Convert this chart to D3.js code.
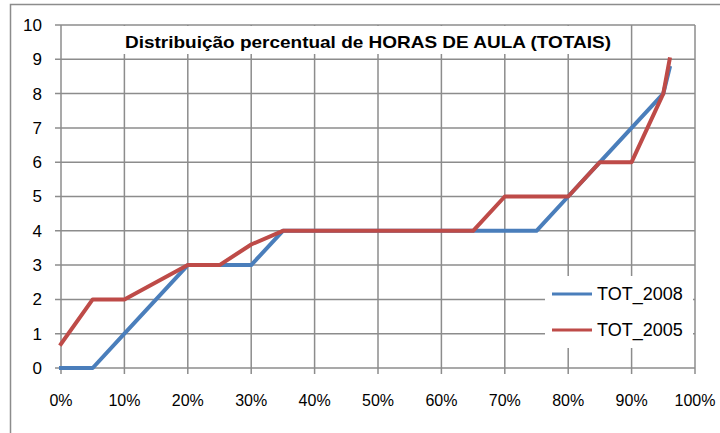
<!DOCTYPE html>
<html><head><meta charset="utf-8">
<script src="https://cdn.jsdelivr.net/npm/d3@7"></script>
<style>body{margin:0;background:#fff}svg{display:block}</style>
</head><body>
<svg id="c" width="720" height="433"></svg>
<script>
const percentiles = [0,0.05,0.10,0.15,0.20,0.25,0.30,0.35,0.40,0.45,0.50,0.55,0.60,0.65,0.70,0.75,0.80,0.85,0.90,0.95,0.96];
const tot2008 = [0,0,1,2,3,3,3,4,4,4,4,4,4,4,4,4,5,6,7,8,8.75];
const tot2005 = [0.7,2,2,2.5,3,3,3.6,4,4,4,4,4,4,4,5,5,5,6,6,8,9];
const seriesNames = ["TOT_2008","TOT_2005"];
const seriesColors = ["#4a7ebb","#be4b48"];
const xTicks = [0,0.1,0.2,0.3,0.4,0.5,0.6,0.7,0.8,0.9,1.0];
const yTicks = [0,1,2,3,4,5,6,7,8,9,10];
const title = "Distribuição percentual de HORAS DE AULA (TOTAIS)";

const svg = d3.select("#c");
const font = "'Liberation Sans', Arial, sans-serif";
const x = d3.scaleLinear().domain([0,1]).range([61,695]);
const y = d3.scaleLinear().domain([0,10]).range([368,25]);

svg.append("rect").attr("x",10.5).attr("y",4.5).attr("width",730).attr("height",450)
  .attr("fill","#fff").attr("stroke","#8c8c8c").attr("stroke-width",1.5);

const grid = "#8c8c8c";
svg.append("g").selectAll("line").data(yTicks).join("line")
  .attr("x1",55).attr("x2",x(1)).attr("y1",d=>y(d)).attr("y2",d=>y(d))
  .attr("stroke",grid).attr("stroke-width",1.5);
svg.append("g").selectAll("line").data(xTicks).join("line")
  .attr("x1",d=>x(d)).attr("x2",d=>x(d)).attr("y1",y(10)).attr("y2",y(0)+6)
  .attr("stroke",grid).attr("stroke-width",1.5);

svg.append("g").selectAll("text").data(yTicks).join("text")
  .attr("x",42).attr("y",d=>y(d)).attr("dy","0.35em").attr("text-anchor","end")
  .attr("font-family",font).attr("font-size",17).attr("fill","#000").text(d=>d);
svg.append("g").selectAll("text").data(xTicks).join("text")
  .attr("x",d=>x(d)).attr("y",400).attr("dy","0.35em").attr("text-anchor","middle")
  .attr("font-family",font).attr("font-size",16).attr("fill","#000").text(d=>d3.format(".0%")(d));

svg.append("rect").attr("x",100).attr("y",26).attr("width",530).attr("height",28).attr("fill","#fff");
svg.append("text").attr("x",368).attr("y",42).attr("dy","0.35em").attr("text-anchor","middle")
  .attr("font-family",font).attr("font-weight","bold").attr("font-size",17)
  .attr("textLength",486).attr("lengthAdjust","spacingAndGlyphs").text(title);

const line = d3.line().x(d=>x(d[0])).y(d=>y(d[1]));
[tot2008, tot2005].forEach((vals,i)=>{
  svg.append("path").datum(percentiles.map((p,j)=>[p,vals[j]]))
    .attr("d",line).attr("fill","none").attr("stroke",seriesColors[i])
    .attr("stroke-width",4).attr("stroke-linejoin","round").attr("stroke-linecap","square");
});

svg.append("rect").attr("x",545).attr("y",276).attr("width",148).attr("height",72).attr("fill","#fff");
seriesNames.forEach((n,i)=>{
  const yy = 294 + i*36;
  svg.append("line").attr("x1",552).attr("x2",592).attr("y1",yy).attr("y2",yy)
    .attr("stroke",seriesColors[i]).attr("stroke-width",3);
  svg.append("text").attr("x",597).attr("y",yy).attr("dy","0.35em")
    .attr("font-family",font).attr("font-size",18).attr("fill","#000").text(n);
});
</script>
</body></html>
